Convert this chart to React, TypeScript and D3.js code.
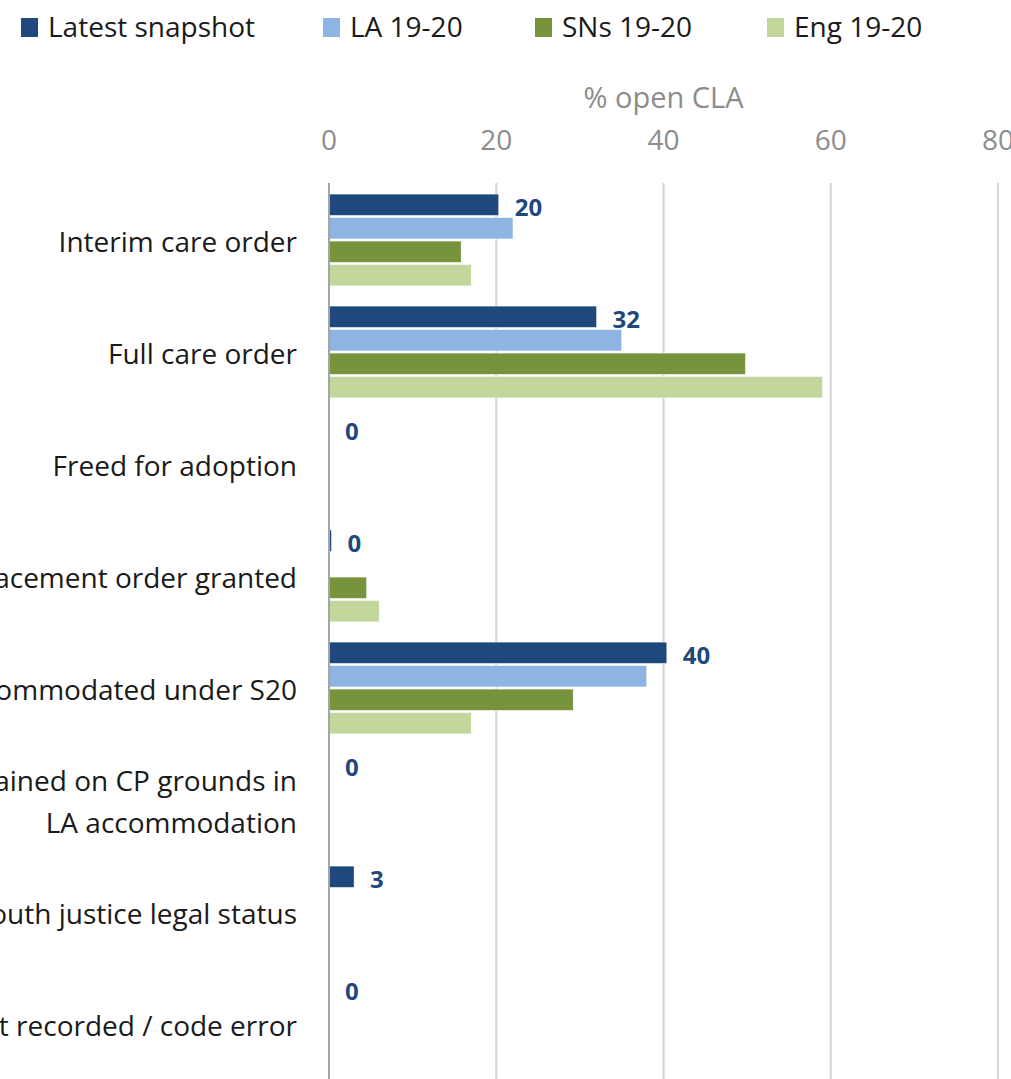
import React from "react";
import * as d3 from "d3";

const categories = [
  "Interim care order",
  "Full care order",
  "Freed for adoption",
  "Placement order granted",
  "Accommodated under S20",
  "Detained on CP grounds in|LA accommodation",
  "Youth justice legal status",
  "Not recorded / code error",
];
const seriesNames = ["Latest snapshot", "LA 19-20", "SNs 19-20", "Eng 19-20"];
const seriesColors = ["#1F497D", "#8EB4E3", "#77933C", "#C3D69B"];
const latestSnapshot = [20.3, 32, 0, 0.3, 40.4, 0, 3, 0];
const la1920 = [22, 35, 0, 0, 38, 0, 0, 0];
const sns1920 = [15.8, 49.8, 0, 4.5, 29.2, 0, 0, 0];
const eng1920 = [17, 59, 0, 6, 17, 0, 0, 0];
const dataLabels = ["20", "32", "0", "0", "40", "0", "3", "0"];
const xTicks = [0, 20, 40, 60, 80];
const axisTitle = "% open CLA";

const W = 1011;
const H = 1079;
const FONT = "'Open Sans', 'Noto Sans', sans-serif";

export default function App() {
  const values = [latestSnapshot, la1920, sns1920, eng1920];
  const x = d3.scaleLinear().domain([0, 80]).range([329, 998]);
  const y = d3
    .scaleBand<string>()
    .domain(categories)
    .range([184, 1080])
    .paddingInner(0.18)
    .paddingOuter(0.09);
  const inner = d3
    .scaleBand<string>()
    .domain(seriesNames)
    .range([0, y.bandwidth()])
    .paddingInner(0.09);

  const legendX = [21, 323, 535, 767];

  return (
    <svg
      width={W}
      height={H}
      style={{ position: "absolute", left: 0, top: 0, background: "#fff" }}
      fontFamily={FONT}
    >
      <rect x={0} y={0} width={W} height={H} fill="#fff" />
      {/* legend */}
      {seriesNames.map((s, i) => (
        <g key={s} transform={`translate(${legendX[i]},27)`}>
          <rect x={0} y={-9} width={17} height={19} fill={seriesColors[i]} />
          <text x={27} y={0} dy="0.36em" fontSize={28} fill="#1a1a1a">
            {s}
          </text>
        </g>
      ))}
      {/* axis title */}
      <text x={x(40)} y={98} dy="0.36em" textAnchor="middle" fontSize={29} fill="#8c8c8c">
        {axisTitle}
      </text>
      {/* ticks & gridlines */}
      {xTicks.map((t) => (
        <g key={t}>
          <text x={x(t)} y={140} dy="0.36em" textAnchor="middle" fontSize={28} fill="#8c8c8c">
            {t}
          </text>
          {t !== 0 && (
            <line x1={x(t)} x2={x(t)} y1={183} y2={H} stroke="#d4d4d4" strokeWidth={2} />
          )}
        </g>
      ))}
      {/* bars */}
      {categories.map((c, ci) => (
        <g key={c} transform={`translate(0,${y(c)})`}>
          {seriesNames.map((s, si) => {
            const v = values[si][ci];
            if (v <= 0) return null;
            return (
              <rect
                key={s}
                x={x(0)}
                y={inner(s)}
                width={x(v) - x(0)}
                height={inner.bandwidth()}
                fill={seriesColors[si]}
                stroke="#fff"
                strokeWidth={0.5}
              />
            );
          })}
          <text
            x={x(latestSnapshot[ci]) + 16}
            y={(inner(seriesNames[0]) as number) + inner.bandwidth() / 2}
            dy="0.45em"
            fontSize={24}
            fontWeight="bold"
            fill="#1F497D"
          >
            {dataLabels[ci]}
          </text>
        </g>
      ))}
      {/* axis line */}
      <line x1={x(0)} x2={x(0)} y1={183} y2={H} stroke="#a6a6a6" strokeWidth={2} />
      {/* category labels */}
      {categories.map((c) => {
        const lines = c.split("|");
        const cy = (y(c) as number) + y.bandwidth() / 2;
        const lh = 42;
        return (
          <text key={c} x={297} textAnchor="end" fontSize={28} fill="#1a1a1a">
            {lines.map((l, li) => (
              <tspan key={li} x={297} y={cy + (li - (lines.length - 1) / 2) * lh} dy="0.42em">
                {l}
              </tspan>
            ))}
          </text>
        );
      })}
    </svg>
  );
}
